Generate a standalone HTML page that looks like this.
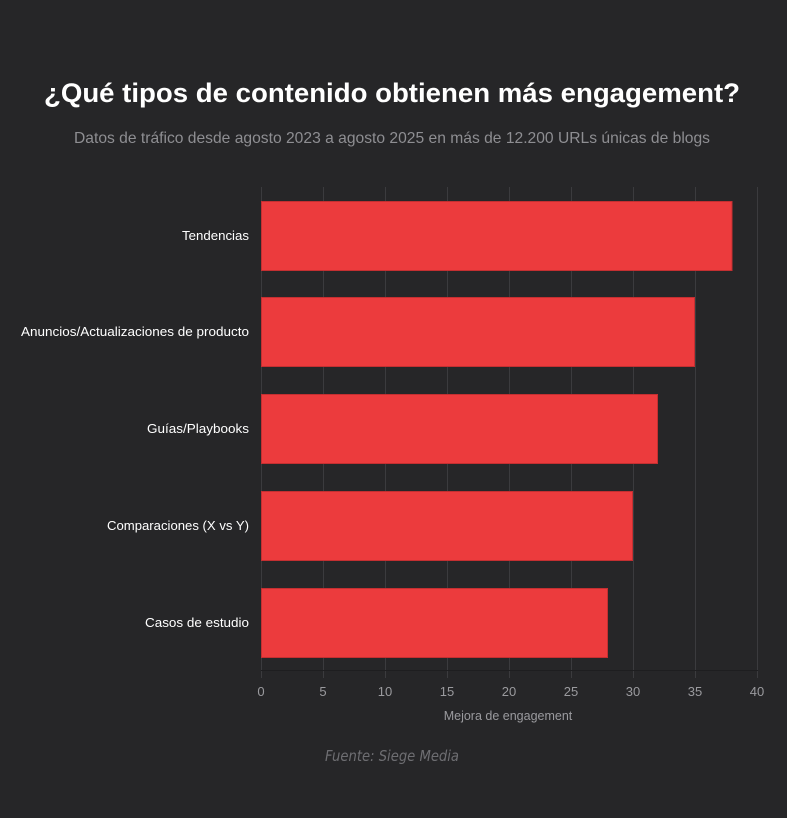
<!DOCTYPE html>
<html><head><meta charset="utf-8"><style>
html,body{margin:0;padding:0;background:#262628;}
svg{display:block;}
</style></head><body>
<svg width="787" height="818" viewBox="0 0 787 818" xmlns="http://www.w3.org/2000/svg" font-family="Liberation Sans, sans-serif">
<rect width="787" height="818" fill="#262628"/>
<text x="392" y="102" text-anchor="middle" font-size="27" font-weight="bold" fill="#ffffff" textLength="696" lengthAdjust="spacingAndGlyphs">¿Qué tipos de contenido obtienen más engagement?</text>
<text x="392" y="143" text-anchor="middle" font-size="16" fill="#8e8e92" textLength="636" lengthAdjust="spacingAndGlyphs">Datos de tráfico desde agosto 2023 a agosto 2025 en más de 12.200 URLs únicas de blogs</text>
<g stroke="#3b3b3e" stroke-width="1">
<line x1="261.5" y1="187" x2="261.5" y2="678"/>
<line x1="323.5" y1="187" x2="323.5" y2="678"/>
<line x1="385.5" y1="187" x2="385.5" y2="678"/>
<line x1="447.5" y1="187" x2="447.5" y2="678"/>
<line x1="509.5" y1="187" x2="509.5" y2="678"/>
<line x1="571.5" y1="187" x2="571.5" y2="678"/>
<line x1="633.5" y1="187" x2="633.5" y2="678"/>
<line x1="695.5" y1="187" x2="695.5" y2="678"/>
<line x1="757.5" y1="187" x2="757.5" y2="678"/>
<line x1="261" y1="670.5" x2="758" y2="670.5" stroke="#1e1e20"/>
</g>
<g fill="#ec3b3d" stroke="#c42f31" stroke-width="1">
<rect x="261.5" y="201.5" width="470.5" height="69"/>
<rect x="261.5" y="297.5" width="433" height="69"/>
<rect x="261.5" y="394.5" width="396" height="69"/>
<rect x="261.5" y="491.5" width="371" height="69"/>
<rect x="261.5" y="588.5" width="346" height="69"/>
</g>
<g font-size="13" fill="#ffffff" text-anchor="end">
<text x="249" y="240" textLength="67" lengthAdjust="spacingAndGlyphs">Tendencias</text>
<text x="249" y="336" textLength="228" lengthAdjust="spacingAndGlyphs">Anuncios/Actualizaciones de producto</text>
<text x="249" y="433" textLength="102" lengthAdjust="spacingAndGlyphs">Guías/Playbooks</text>
<text x="249" y="530" textLength="142" lengthAdjust="spacingAndGlyphs">Comparaciones (X vs Y)</text>
<text x="249" y="627" textLength="104" lengthAdjust="spacingAndGlyphs">Casos de estudio</text>
</g>
<g font-size="13" fill="#9a9a9e" text-anchor="middle">
<text x="261" y="696">0</text>
<text x="323" y="696">5</text>
<text x="385" y="696">10</text>
<text x="447" y="696">15</text>
<text x="509" y="696">20</text>
<text x="571" y="696">25</text>
<text x="633" y="696">30</text>
<text x="695" y="696">35</text>
<text x="757" y="696">40</text>
<text x="508" y="720" font-size="12.5">Mejora de engagement</text>
</g>
<text x="392" y="761" text-anchor="middle" font-size="15" font-style="italic" fill="#6e6e72" font-family="DejaVu Sans, sans-serif" textLength="134" lengthAdjust="spacingAndGlyphs">Fuente: Siege Media</text>
</svg>
</body></html>
